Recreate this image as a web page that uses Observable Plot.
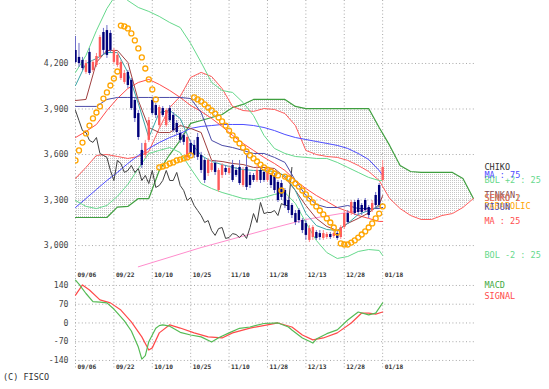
<!DOCTYPE html>
<html><head><meta charset="utf-8">
<script src="https://cdn.jsdelivr.net/npm/d3@7"></script>
<script src="https://cdn.jsdelivr.net/npm/@observablehq/plot@0.6"></script>
<style>
body{margin:0;background:#fff;}
#wrap{position:relative;width:549px;height:389px;overflow:hidden;font-family:"DejaVu Sans Mono",monospace;background:#fff;}
#main{position:absolute;left:0;top:0;}
#macd{position:absolute;left:0;top:278px;}
#copy{position:absolute;left:3px;top:372px;font-size:8.5px;color:#333;font-family:"DejaVu Sans Mono",monospace;}
</style></head><body>
<div id="wrap"><div id="main"></div><div id="macd"></div><div id="copy">(C) FISCO</div></div>
<script>
const dateLabels = ["09/06","09/22","10/10","10/25","11/10","11/28","12/13","12/28","01/18"];
const dateTickDays = [0,11,22,33,44,55,66,77,88];
const priceTicks = [3000,3300,3600,3900,4200];
const macdTicks = [-140,-70,0,70,140];

const open  = [4286,4240,4220,4141,4273,4154,4187,4240,4404,4417,4398,4207,4187,4101,4075,4141,4088,3956,3870,3627,3594,3693,3956,3923,3791,3903,3791,3903,3857,3805,3739,3726,3581,3673,3660,3712,3594,3561,3475,3495,3541,3363,3462,3508,3475,3528,3495,3515,3396,3515,3462,3462,3429,3495,3482,3429,3462,3462,3416,3409,3363,3297,3264,3211,3231,3165,3145,3034,3053,3086,3079,3047,3053,3073,3060,3079,3053,3119,3211,3211,3284,3297,3264,3297,3251,3231,3330,3396,3429];
const close = [4207,4200,4167,4200,4134,4207,4246,4371,4286,4253,4286,4286,4253,4207,4134,4055,3903,3837,3712,3528,3673,3824,3870,3857,3910,3857,3890,3824,3758,3745,3693,3680,3712,3607,3594,3581,3495,3429,3561,3541,3482,3495,3528,3482,3508,3429,3462,3409,3495,3383,3396,3429,3495,3429,3429,3482,3396,3363,3297,3317,3264,3231,3198,3152,3165,3099,3067,3112,3119,3047,3053,3079,3073,3053,3079,3047,3119,3211,3152,3284,3211,3218,3218,3231,3198,3277,3264,3264,3515];
const high  = [4378,4332,4240,4220,4299,4220,4266,4385,4431,4450,4417,4299,4273,4220,4154,4154,4101,3969,3890,3673,3693,3844,3976,3936,3923,3916,3903,3923,3877,3824,3758,3739,3726,3693,3693,3739,3614,3574,3574,3561,3561,3508,3541,3528,3528,3561,3515,3561,3515,3594,3482,3475,3528,3508,3495,3508,3475,3475,3429,3429,3376,3317,3277,3231,3244,3178,3165,3132,3132,3099,3099,3099,3086,3086,3092,3099,3132,3231,3231,3297,3297,3310,3277,3310,3264,3297,3350,3409,3561];
const low   = [4200,4174,4154,4128,4121,4141,4174,4226,4253,4233,4273,4194,4174,4088,4062,4035,3890,3811,3693,3508,3574,3679,3857,3837,3778,3844,3778,3811,3745,3726,3673,3660,3561,3587,3574,3561,3475,3409,3455,3482,3462,3350,3442,3462,3462,3416,3449,3396,3383,3363,3376,3416,3416,3409,3416,3416,3376,3343,3284,3297,3244,3211,3178,3132,3145,3079,3034,3020,3034,3034,3034,3034,3040,3040,3047,3034,3040,3106,3139,3198,3198,3198,3198,3218,3178,3218,3244,3251,3416];
const parabolic = [3561,3627,3679,3739,3791,3838,3877,3917,3969,4009,4055,4101,4147,4450,4444,4431,4398,4352,4299,4240,4167,4095,4029,3963,3515,3521,3528,3541,3548,3561,3567,3574,3581,3594,3976,3963,3950,3930,3910,3890,3870,3844,3818,3791,3758,3726,3699,3673,3646,3620,3594,3574,3554,3534,3515,3501,3488,3475,3462,3363,3455,3442,3429,3409,3389,3363,3337,3310,3284,3258,3231,3205,3179,3152,3119,3086,3014,3007,3007,3020,3034,3053,3073,3093,3119,3146,3179,3211,3258];

const lineDays = [0,3,6,9,12,15,18,21,24,27,30,33,36,39,42,45,48,51,54,57,60,63,66,69,72,75,78,81,84,87,88];
const ma25  = [3712,3752,3798,3890,3969,4035,4075,4095,4062,4022,3976,3923,3884,3838,3785,3726,3673,3627,3581,3541,3495,3429,3376,3330,3291,3251,3225,3198,3179,3159,3159];
const ma75  = [3251,3310,3370,3429,3482,3541,3594,3640,3679,3712,3739,3772,3785,3791,3798,3798,3798,3791,3778,3758,3732,3712,3699,3686,3673,3660,3640,3607,3567,3495,3462];
const bolUp = [4141,4253,4417,4562,4668,4615,4569,4543,4510,4470,4437,4332,4207,4075,4022,4009,3943,3857,3726,3640,3607,3587,3581,3574,3574,3548,3515,3482,3449,3429,3429];
const bolDn = [3297,3258,3244,3264,3324,3403,3508,3607,3627,3646,3613,3508,3409,3376,3350,3330,3310,3304,3317,3337,3350,3277,3152,3034,2954,2915,2928,2961,2974,2968,2935];
const shortLine = [4055,4200,4233,4272,4272,4141,3936,3712,3877,3890,3838,3679,3594,3554,3534,3515,3501,3495,3495,3488,3462,3363,3212,3132,3106,3099,3146,3205,3231,3258,3277];
const tenkan = [3956,3963,4207,4286,4286,4207,3956,3778,3745,3745,3791,3772,3745,3561,3554,3541,3534,3515,3515,3508,3449,3363,3264,3179,3126,3099,3146,3179,3215,3270,3330];
const kijun = [3917,3917,3917,3963,3976,3976,3976,3976,3976,3976,3976,3969,3877,3693,3660,3646,3627,3607,3607,3581,3548,3429,3330,3271,3251,3251,3264,3244,3244,3244,3251];

const pinkDays = [18,36,54,66,76,88];
const pinkVals = [2860,2987,3100,3172,3211,3251];

const cloudDays = [0,3,6,9,12,15,18,21,24,27,30,33,36,39,42,45,48,51,54,57,60,63,66,69,72,75,78,81,84,87,90,93,96,99,102,105,108,111,114];
const senkoA = [3442,3515,3594,3600,3587,3574,3587,3620,3772,3910,3983,4108,4141,4114,4035,3917,3890,3884,3903,3897,3870,3791,3627,3600,3587,3581,3561,3528,3488,3429,3310,3244,3198,3172,3172,3198,3211,3251,3310];
const senkoB = [3185,3185,3185,3185,3253,3258,3310,3310,3495,3600,3693,3805,3824,3844,3864,3910,3930,3963,3963,3963,3963,3917,3903,3903,3903,3903,3903,3903,3903,3778,3660,3528,3488,3482,3482,3482,3482,3442,3310];

const macdDays = [0,1,3,5,7,9,11,14,16,18,19,20,21,22,23,24,25,27,30,33,36,39,41,44,47,50,54,58,61,62,65,67,68,69,72,75,78,81,84,86,88];
const macdVals = [160,145,110,80,78,75,52,8,-30,-90,-135,-122,-70,-45,-20,-10,-7,-12,-35,-45,-52,-71,-55,-37,-20,-15,-2,0,-15,-26,-56,-68,-75,-60,-40,-26,11,41,30,37,75];
const signalDays = [0,2,4,7,10,13,16,19,21,22,24,27,30,34,38,42,45,50,55,58,62,65,68,71,75,79,82,84,86,88];
const signalVals = [104,142,123,86,75,48,4,-52,-101,-93,-37,-7,-19,-37,-52,-56,-37,-19,-7,0,-15,-45,-63,-56,-37,0,37,37,33,41];

// ---- build tables ----
const candles = open.map((o,i)=>({day:i, open:o, close:close[i], high:high[i], low:low[i], up: close[i] >= open[i]}));
const series = vals => lineDays.map((d,i)=>({day:d, v:vals[i]}));
const cloud = cloudDays.map((d,i)=>({day:d, a:senkoA[i], b:senkoB[i]}));
const chiko = close.slice(26).map((c,i)=>({day:i, v:c}));
const psar = parabolic.map((v,i)=>({day:i, v}));
const pink = pinkDays.map((d,i)=>({day:d, v:pinkVals[i]}));
const macd = macdDays.map((d,i)=>({day:d, v:macdVals[i]}));
const signal = signalDays.map((d,i)=>({day:d, v:signalVals[i]}));

const last = a => a[a.length-1];
const legend = [
  {label:"CHIKO", v:last(close), color:"#333333"},
  {label:"BOL +2 : 25", v:last(bolUp), color:"#66d98c"},
  {label:"MA : 75", v:last(ma75), color:"#4d4dff"},
  {label:"TENKAN", v:last(tenkan), color:"#8a4a4a"},
  {label:"SENKO 2", v:last(senkoB), color:"#3f9f3f"},
  {label:"SENKO 1", v:last(senkoA), color:"#ff6a6a"},
  {label:"PARABOLIC", v:last(parabolic), color:"#ffa500"},
  {label:"KIJUN", v:last(kijun), color:"#5050b0"},
  {label:"MA : 25", v:last(ma25), color:"#ff4d4d"},
  {label:"BOL -2 : 25", v:last(bolDn), color:"#66d98c"}
];

const grid = {stroke:"#a8a8a8", strokeDasharray:"1,2.4", strokeWidth:1};
const font = "DejaVu Sans Mono";
const lineOpt = (stroke, w=1) => ({x:"day", y:"v", stroke, strokeWidth:w, clip:true});

const mainPlot = Plot.plot({
  width:549, height:280,
  marginLeft:75, marginRight:74, marginTop:0, marginBottom:2,
  x:{domain:[0,114.6], axis:null},
  y:{domain:[2783,4615], axis:null},
  color:{type:"identity"},
  style:{fontFamily:font, background:"white", overflow:"visible"},
  marks:[
    Plot.areaY(cloud, {x:"day", y1:"a", y2:"b", fill:"url(#hatch)", clip:true}),
    Plot.ruleY(priceTicks, grid),
    Plot.ruleX(dateTickDays, grid),
    Plot.text(priceTicks, {y:d=>d, text:d=>d3.format(",")(d), frameAnchor:"left", textAnchor:"end", dx:-7, fontSize:8.2, fill:"#444", fontFamily:font}),
    Plot.text(dateTickDays, {x:d=>d, text:(d,i)=>dateLabels[i], frameAnchor:"bottom", lineAnchor:"bottom", textAnchor:"start", dx:2, dy:-2, fontSize:6.2, fontWeight:"bold", fill:"#333", fontFamily:font}),
    Plot.line(cloud, {x:"day", y:"b", stroke:"#3f9f3f", strokeWidth:1.2, clip:true}),
    Plot.line(cloud, {x:"day", y:"a", stroke:"#ff5c5c", strokeWidth:1, clip:true}),
    Plot.line(pink, lineOpt("#ff8ccc")),
    Plot.line(series(ma75), lineOpt("#4d4dff")),
    Plot.line(series(bolUp), lineOpt("#66d98c")),
    Plot.line(series(bolDn), lineOpt("#66d98c")),
    Plot.line(series(ma25), lineOpt("#ff4d4d")),
    Plot.line(chiko, lineOpt("#404040")),
    Plot.line(series(kijun), lineOpt("#4b4ba8")),
    Plot.line(series(tenkan), lineOpt("#a04040")),
    Plot.line(series(shortLine), lineOpt("#3aa6a6")),
    Plot.ruleX(candles, {x:"day", y1:"low", y2:"high", stroke:d=>d.up?"#ff8a8a":"#6d6dc8", strokeWidth:1, clip:true}),
    Plot.ruleX(candles, {x:"day", y1:"open", y2:"close", stroke:d=>d.up?"#ff5a5a":"#00007a", strokeWidth:2.4, clip:true}),
    Plot.dot(psar, {x:"day", y:"v", r:2.5, stroke:"#ffa500", strokeWidth:1.3, fill:"none", clip:true}),
    Plot.text(legend, {y:"v", text:"label", fill:d=>d.color, frameAnchor:"right", textAnchor:"start", dx:9, fontSize:8.5, fontFamily:font})
  ]
});

// hatch pattern for the cloud
const ns = "http://www.w3.org/2000/svg";
const defs = document.createElementNS(ns, "defs");
const pat = document.createElementNS(ns, "pattern");
pat.setAttribute("id","hatch"); pat.setAttribute("patternUnits","userSpaceOnUse");
pat.setAttribute("width","2"); pat.setAttribute("height","2");
const pr = document.createElementNS(ns, "rect");
pr.setAttribute("x","0"); pr.setAttribute("y","0"); pr.setAttribute("width","1"); pr.setAttribute("height","1");
pr.setAttribute("fill","#c6c6c6");
pat.appendChild(pr); defs.appendChild(pat);
mainPlot.insertBefore(defs, mainPlot.firstChild);
document.getElementById("main").appendChild(mainPlot);

const macdPlot = Plot.plot({
  width:549, height:90,
  marginLeft:75, marginRight:74, marginTop:0, marginBottom:0,
  x:{domain:[0,114.6], axis:null},
  y:{domain:[-170,166], axis:null},
  style:{fontFamily:font, background:"white", overflow:"visible"},
  marks:[
    Plot.ruleY(macdTicks, grid),
    Plot.ruleX(dateTickDays, grid),
    Plot.text(macdTicks, {y:d=>d, text:d=>String(d), frameAnchor:"left", textAnchor:"end", dx:-7, fontSize:8.2, fill:"#444", fontFamily:font}),
    Plot.text(dateTickDays, {x:d=>d, text:(d,i)=>dateLabels[i], frameAnchor:"bottom", lineAnchor:"bottom", textAnchor:"start", dx:2, dy:0, fontSize:6.2, fontWeight:"bold", fill:"#333", fontFamily:font}),
    Plot.line(signal, {x:"day", y:"v", stroke:"#ff4a4a", strokeWidth:1.2}),
    Plot.line(macd, {x:"day", y:"v", stroke:"#55bb55", strokeWidth:1.2}),
    Plot.text(["MACD"], {text:d=>d, frameAnchor:"top-right", textAnchor:"start", lineAnchor:"middle", dx:9, dy:7, fontSize:8.5, fill:"#44aa44", fontFamily:font}),
    Plot.text(["SIGNAL"], {text:d=>d, frameAnchor:"top-right", textAnchor:"start", lineAnchor:"middle", dx:9, dy:18, fontSize:8.5, fill:"#ff4a4a", fontFamily:font})
  ]
});
document.getElementById("macd").appendChild(macdPlot);
</script>
</body></html>
